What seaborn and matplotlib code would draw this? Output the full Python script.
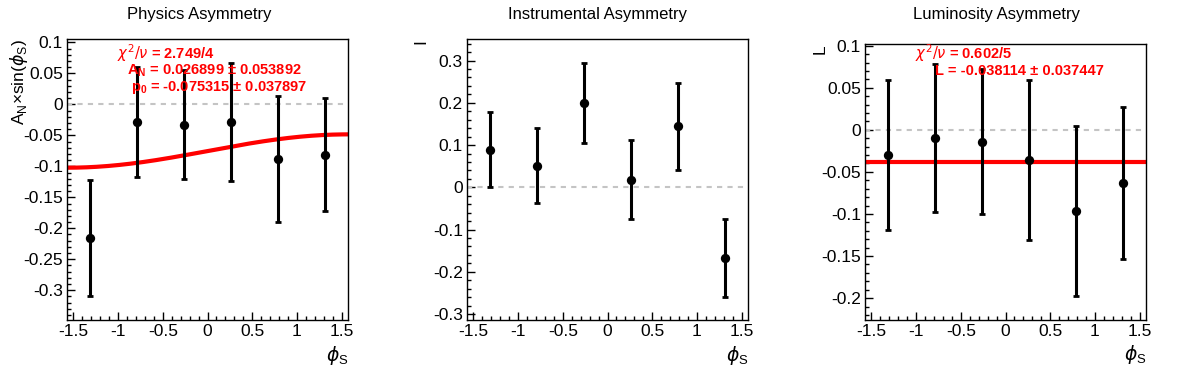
import numpy as np
import pandas as pd
import matplotlib
matplotlib.use("Agg")
import matplotlib.pyplot as plt
import seaborn as sns
from matplotlib.ticker import MultipleLocator, FuncFormatter

# ---------------- data ----------------
phi_bins = [-1.309, -0.785, -0.262, 0.262, 0.785, 1.309]

physics_vals = [-0.216, -0.028, -0.033, -0.028, -0.088, -0.081]
physics_errs = [0.094, 0.089, 0.088, 0.095, 0.102, 0.091]

instr_vals = [0.089, 0.051, 0.200, 0.018, 0.144, -0.168]
instr_errs = [0.089, 0.089, 0.094, 0.094, 0.103, 0.092]

lumi_vals = [-0.030, -0.010, -0.014, -0.036, -0.096, -0.063]
lumi_errs = [0.089, 0.088, 0.086, 0.095, 0.101, 0.090]

fit_AN = 0.026899
fit_p0 = -0.075315
fit_L = -0.038114

titles = ["Physics Asymmetry", "Instrumental Asymmetry", "Luminosity Asymmetry"]
ylabels = [r"A$_\mathregular{N}$×sin($\phi_\mathregular{S}$)", "I", "L"]
physics_text = [r"$\chi^{2}/\nu$ = 2.749/4",
                r"A$_\mathregular{N}$ = 0.026899 ± 0.053892",
                r"p$_\mathregular{0}$ = -0.075315 ± 0.037897"]
lumi_text = [r"$\chi^{2}/\nu$ = 0.602/5",
             r"L = -0.038114 ± 0.037447"]

# ---------------- style ----------------
sns.set_style("ticks")
plt.rcParams["font.family"] = ["Liberation Sans", "DejaVu Sans"]
plt.rcParams["mathtext.fontset"] = "dejavusans"
plt.rcParams["axes.unicode_minus"] = False
plt.rcParams["text.color"] = "black"
plt.rcParams["axes.labelcolor"] = "black"
plt.rcParams["xtick.color"] = "black"
plt.rcParams["ytick.color"] = "black"
plt.rcParams["xtick.labelcolor"] = "black"
plt.rcParams["ytick.labelcolor"] = "black"

W, H = 1196, 372
fig = plt.figure(figsize=(W / 100, H / 100), dpi=100)

def px_axes(left, top, right, bottom):
    return fig.add_axes([left / W, 1 - bottom / H, (right - left) / W, (bottom - top) / H])

ax1 = px_axes(67, 39, 348, 320)
ax2 = px_axes(467, 39, 748, 320)
ax3 = px_axes(865, 44, 1146, 320)
axes = [ax1, ax2, ax3]

ylims = [(-0.348, 0.1055), (-0.314, 0.351), (-0.226, 0.102)]
ymajor = [0.05, 0.1, 0.05]
yminor = [0.01, 0.02, 0.01]
series = [(physics_vals, physics_errs), (instr_vals, instr_errs), (lumi_vals, lumi_errs)]

fmt = FuncFormatter(lambda v, p: ("%g" % round(v, 6)).replace("−", "-"))

xlim = (-np.pi / 2, np.pi / 2)
xgrid = np.linspace(xlim[0], xlim[1], 200)

for i, ax in enumerate(axes):
    vals, errs = series[i]
    df = pd.DataFrame({"phi": phi_bins, "val": vals, "err": errs})
    ax.set_xlim(*xlim)
    ax.set_ylim(*ylims[i])
    ax.axhline(0, color="#c4c4c4", lw=1.5, ls=(0, (2.5, 2.5)), zorder=1)
    ax.errorbar(df["phi"], df["val"], yerr=df["err"], fmt="none", ecolor="black",
                elinewidth=2.2, capsize=2.2, capthick=2.0, zorder=3)
    sns.scatterplot(data=df, x="phi", y="val", ax=ax, color="black", s=45,
                    edgecolor="black", linewidth=0, zorder=4)
    if i == 0:
        fdf = pd.DataFrame({"x": xgrid, "y": fit_p0 + fit_AN * np.sin(xgrid)})
        sns.lineplot(data=fdf, x="x", y="y", ax=ax, color="red", lw=3, zorder=2)
    if i == 2:
        fdf = pd.DataFrame({"x": xgrid, "y": np.full_like(xgrid, fit_L)})
        sns.lineplot(data=fdf, x="x", y="y", ax=ax, color="red", lw=3, zorder=2)

    ax.xaxis.set_major_locator(MultipleLocator(0.5))
    ax.xaxis.set_minor_locator(MultipleLocator(0.1))
    ax.yaxis.set_major_locator(MultipleLocator(ymajor[i]))
    ax.yaxis.set_minor_locator(MultipleLocator(yminor[i]))
    ax.xaxis.set_major_formatter(fmt)
    ax.yaxis.set_major_formatter(fmt)
    ax.tick_params(which="both", direction="in", top=False, right=False,
                   color="black", labelcolor="black", width=1)
    ax.tick_params(which="major", length=6, labelsize=12.5, pad=3)
    ax.tick_params(which="minor", length=3)
    for sp in ax.spines.values():
        sp.set_visible(True)
        sp.set_color("black")
        sp.set_linewidth(1)

    ax.set_xlabel(r"$\phi_\mathregular{S}$", fontsize=13.5, loc="right", color="black")
    ax.xaxis.label.set_va("top")
    ax.xaxis.set_label_coords(1.0, -0.085)
    ax.set_ylabel(ylabels[i], fontsize=12.5, loc="top", color="black")
    ax.yaxis.label.set_va("center")

    fig.text((i + 0.5) / 3, 1 - 15 / H, titles[i], ha="center", va="center",
             fontsize=12, color="black")

# ylabel horizontal positions (pixel centers)
ax1.yaxis.set_label_coords((19 - 67) / 281, 1.0)
ax2.yaxis.set_label_coords((421 - 467) / 281, 1.0)
ax3.yaxis.set_label_coords((820 - 865) / 281, 1.0)

# fit statistics text
ppos = [(117, 52.7), (127, 70.7), (131, 88)]
for t, (xp, yp) in zip(physics_text, ppos):
    ax1.text((xp - 67) / 281, (320 - yp) / 281, t, transform=ax1.transAxes,
             color="red", fontsize=10.5, fontweight="bold", ha="left", va="center", zorder=5)
lpos = [(915, 52.7), (935, 70.7)]
for t, (xp, yp) in zip(lumi_text, lpos):
    ax3.text((xp - 865) / 281, (320 - yp) / 276, t, transform=ax3.transAxes,
             color="red", fontsize=10.5, fontweight="bold", ha="left", va="center", zorder=5)

fig.savefig("out.png", dpi=100)
